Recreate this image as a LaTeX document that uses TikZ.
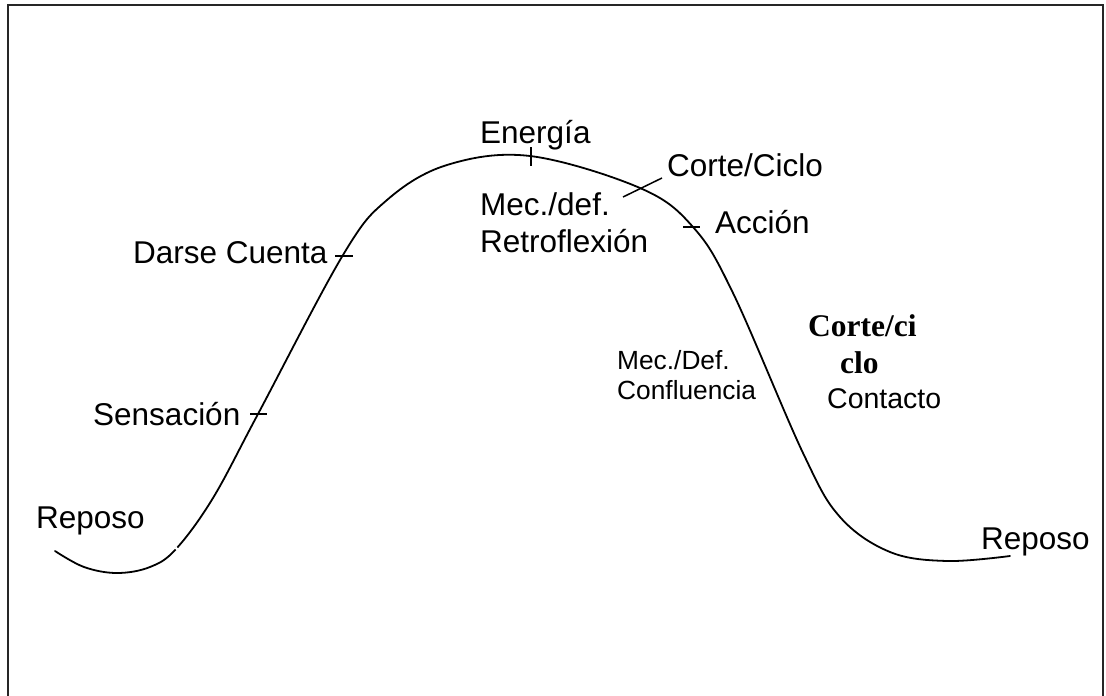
\documentclass[tikz,border=0pt]{standalone}
\usepackage{fontspec}
\setmainfont{Liberation Sans}
\newfontfamily\boldserif{Liberation Serif}
\begin{document}
\begin{tikzpicture}[x=1pt,y=-1pt,
  lab/.style={inner sep=0pt,anchor=base west,font=\fontsize{31.5}{36}\selectfont},
  smalllab/.style={inner sep=0pt,anchor=base west,font=\fontsize{26.3}{30}\selectfont},
  midlab/.style={inner sep=0pt,anchor=base west,font=\fontsize{28.5}{32}\selectfont},
  boldlab/.style={inner sep=0pt,anchor=base west,font=\boldserif\bfseries\fontsize{31.5}{36}\selectfont},
  curveline/.style={line width=1.8pt,line join=round,line cap=round},
  tickline/.style={line width=1.5pt},
  frameline/.style={line width=2.2pt,draw=black!85}]
\useasboundingbox (0,0) rectangle (1106,696);
% frame (left, top, right)
\draw[frameline] (8,696) -- (8,5) -- (1103,5) -- (1103,696);
% curve
\draw[curveline] plot[smooth,tension=0.6] coordinates {
  (55,551) (84,567) (117,573) (150,567) (176,549) (213,498) (258,414)
  (343,255) (387,200) (447,165)
  (530,156) (640,188) (693,227) (733,293) (803,453) (840,517) (890,552)
  (947,561) (1010,556)};
\fill[white] (176.5,548.5) circle (1.6);
% ticks
\draw[tickline] (250,414) -- (267,414);
\draw[tickline] (335,256) -- (353,256);
\draw[tickline] (531,147) -- (531,166);
\draw[tickline] (683,227) -- (700,227);
% labels
\node[lab] (reposoL) at (36,528) {Reposo};
\node[lab] (sens) at (93,425) {Sensación};
\node[lab] (darse) at (133,263) {Darse Cuenta};
\node[lab] (energia) at (480,143) {Energía};
\node[lab] (mecdef) at (480,215) {Mec./def.};
\node[lab] (retro) at (480,252) {Retroflexión};
\node[lab] (corteciclo) at (667,176) {Corte/Ciclo};
\node[lab] (accion) at (715,233) {Acción};
\node[smalllab] (mecDef) at (617,369) {Mec./Def.};
\node[smalllab] (conflu) at (617,399) {Confluencia};
\node[boldlab] (corteci) at (808,336) {Corte/ci};
\node[boldlab] (clo) at (840,373) {clo};
\node[midlab] (contacto) at (827,408) {Contacto};
\node[lab] (reposoR) at (981,549) {Reposo};
% Corte/Ciclo pointer
\coordinate (ccfoot) at (623,197);
\coordinate (cchead) at (662,178);
\draw[tickline] (ccfoot) -- (cchead);
\end{tikzpicture}
\end{document}
